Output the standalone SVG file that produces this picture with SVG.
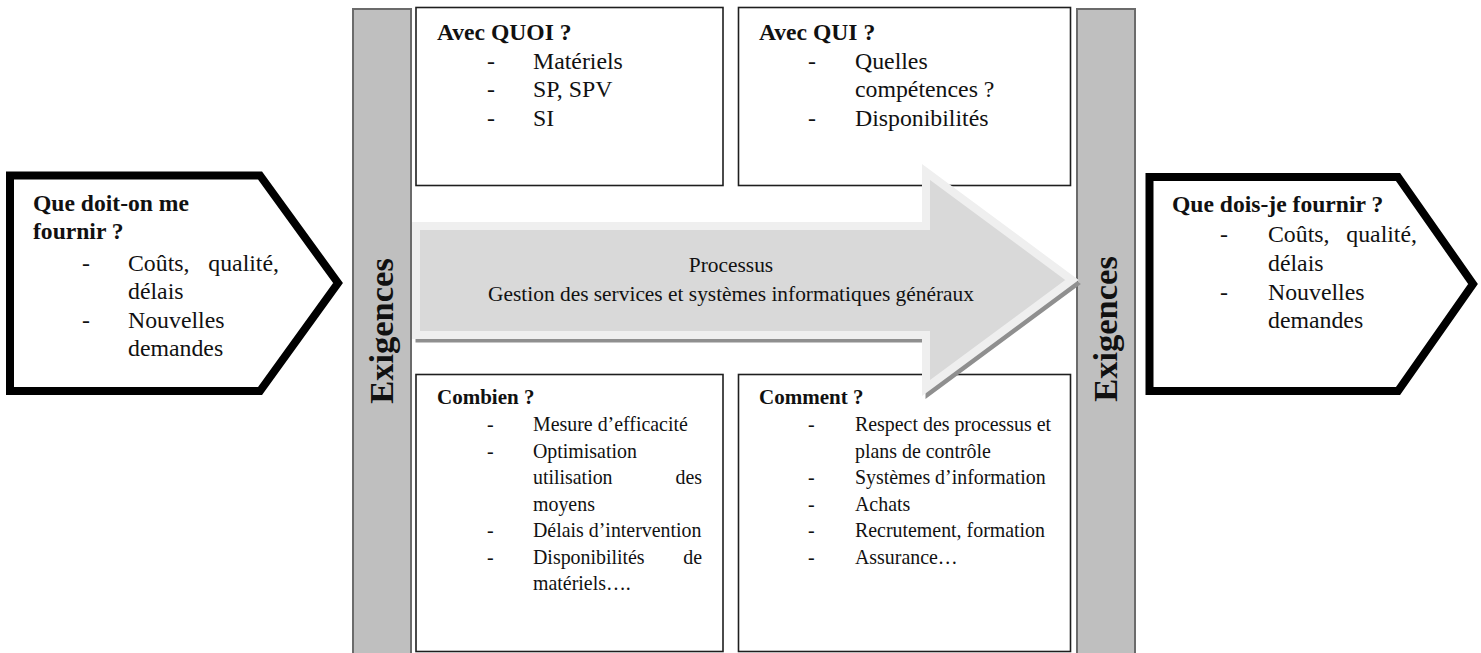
<svg xmlns="http://www.w3.org/2000/svg" width="1481" height="653" viewBox="0 0 1481 653">
<style>
.bg{fill:#ffffff}
.bar{fill:#bfbfbf;stroke:#6b6b6b;stroke-width:2}
.box{fill:#ffffff;stroke:#1e1e1e;stroke-width:1.6}
.pent{fill:#ffffff;stroke:#000000;stroke-width:8;stroke-linejoin:miter}
.t{font-family:"Liberation Serif","Times New Roman",serif;fill:#111111}
.h12{font-size:23.6px;font-weight:bold}
.b12{font-size:23.8px}
.h10{font-size:21px;font-weight:bold}
.b10{font-size:19.9px}
.ex{font-size:34.5px;font-weight:bold;text-anchor:middle}
.proc{font-size:21.4px;text-anchor:middle}
.end{text-anchor:end}
</style>
<rect class="bg" x="0" y="0" width="1481" height="653"/>

<g id="bar-left">
<rect class="bar" x="353" y="9" width="58" height="660"/>
<text class="t ex" transform="translate(393,331) rotate(-90)">Exigences</text>
</g>
<g id="bar-right">
<rect class="bar" x="1077" y="9" width="58" height="660"/>
<text class="t ex" transform="translate(1117,329) rotate(-90)">Exigences</text>
</g>

<g id="box-quoi">
<rect class="box" x="416" y="7.5" width="307" height="178"/>
<text class="t h12" x="437" y="40">Avec QUOI ?</text>
<text class="t b12" x="487" y="68.5">-</text><text class="t b12" x="533" y="68.5">Matériels</text>
<text class="t b12" x="487" y="97">-</text><text class="t b12" x="533" y="97">SP, SPV</text>
<text class="t b12" x="487" y="125.5">-</text><text class="t b12" x="533" y="125.5">SI</text>
</g>

<g id="box-qui">
<rect class="box" x="738.5" y="7.5" width="332" height="178"/>
<text class="t h12" x="759" y="40">Avec QUI ?</text>
<text class="t b12" x="808" y="68.5">-</text><text class="t b12" x="855" y="68.5">Quelles</text>
<text class="t b12" x="855" y="97">compétences ?</text>
<text class="t b12" x="808" y="125.5">-</text><text class="t b12" x="855" y="125.5">Disponibilités</text>
</g>

<g id="box-combien">
<rect class="box" x="416" y="374.5" width="307" height="277"/>
<text class="t h10" x="437" y="404">Combien ?</text>
<text class="t b10" x="487" y="431">-</text><text class="t b10" x="533" y="431">Mesure d’efficacité</text>
<text class="t b10" x="487" y="457.5">-</text><text class="t b10" x="533" y="457.5">Optimisation</text>
<text class="t b10" x="533" y="484">utilisation</text><text class="t b10 end" x="702" y="484">des</text>
<text class="t b10" x="533" y="510.5">moyens</text>
<text class="t b10" x="487" y="537">-</text><text class="t b10" x="533" y="537">Délais d’intervention</text>
<text class="t b10" x="487" y="563.5">-</text><text class="t b10" x="533" y="563.5">Disponibilités</text><text class="t b10 end" x="702" y="563.5">de</text>
<text class="t b10" x="533" y="590">matériels….</text>
</g>

<g id="box-comment">
<rect class="box" x="738.5" y="374.5" width="332" height="277"/>
<text class="t h10" x="759" y="404">Comment ?</text>
<text class="t b10" x="808" y="431">-</text><text class="t b10" x="855" y="431">Respect des processus et</text>
<text class="t b10" x="855" y="457.5">plans de contrôle</text>
<text class="t b10" x="808" y="484">-</text><text class="t b10" x="855" y="484">Systèmes d’information</text>
<text class="t b10" x="808" y="510.5">-</text><text class="t b10" x="855" y="510.5">Achats</text>
<text class="t b10" x="808" y="537">-</text><text class="t b10" x="855" y="537">Recrutement, formation</text>
<text class="t b10" x="808" y="563.5">-</text><text class="t b10" x="855" y="563.5">Assurance…</text>
</g>

<g id="process-arrow">
<polygon points="419,229 929,229 929,176 1075,284 929,392 929,339 419,339" fill="#8f8f8f" stroke="#8f8f8f" stroke-width="7" stroke-linejoin="miter"/>
<polygon points="416,226 926,226 926,172 1072,280 926,388 926,335 416,335" fill="#d9d9d9" stroke="#efefef" stroke-width="8" stroke-linejoin="miter"/>
<text class="t proc" x="731" y="272">Processus</text>
<text class="t proc" x="731" y="301">Gestion des services et systèmes informatiques généraux</text>
</g>

<g id="input-left">
<polygon class="pent" points="10,175.5 260,175.5 338,283 260,391 10,391"/>
<text class="t h12" x="33" y="211">Que doit-on me</text>
<text class="t h12" x="33" y="239">fournir ?</text>
<text class="t b12" x="82" y="271">-</text><text class="t b12" x="128" y="271">Coûts,</text><text class="t b12 end" x="279" y="271">qualité,</text>
<text class="t b12" x="128" y="299">délais</text>
<text class="t b12" x="82" y="328">-</text><text class="t b12" x="128" y="328">Nouvelles</text>
<text class="t b12" x="128" y="356">demandes</text>
</g>

<g id="output-right">
<polygon class="pent" points="1149.5,177 1398,177 1473,284 1398,391 1149.5,391"/>
<text class="t h12" x="1172" y="212">Que dois-je fournir ?</text>
<text class="t b12" x="1220" y="242">-</text><text class="t b12" x="1268" y="242">Coûts,</text><text class="t b12 end" x="1417" y="242">qualité,</text>
<text class="t b12" x="1268" y="271">délais</text>
<text class="t b12" x="1220" y="299.5">-</text><text class="t b12" x="1268" y="299.5">Nouvelles</text>
<text class="t b12" x="1268" y="328">demandes</text>
</g>

<g id="connectors"></g>
</svg>
